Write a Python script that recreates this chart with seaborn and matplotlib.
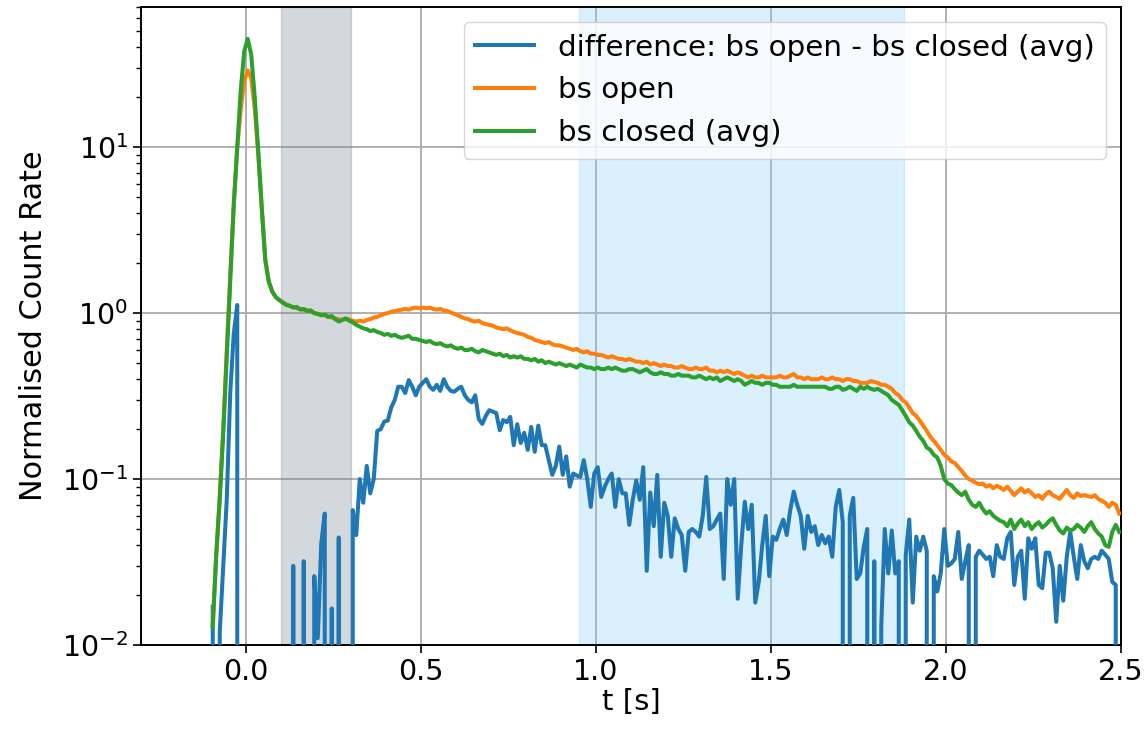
import numpy as np
import pandas as pd
import matplotlib
matplotlib.use("Agg")
import matplotlib.pyplot as plt
import seaborn as sns

# time bin centres [s]
t = np.linspace(-0.095, 2.495, 260)

bs_open = [
    0.013, 0.035, 0.08, 0.2, 0.6, 1.7, 4.5, 10, 17, 25,
    29, 26, 17, 9, 4.3, 2.1, 1.55, 1.35, 1.25, 1.2,
    1.16, 1.13, 1.1, 1.09, 1.07, 1.06, 1.05, 1.04, 1.02, 1.0,
    0.99, 0.98, 0.97, 0.95, 0.94, 0.93, 0.92, 0.91, 0.92, 0.92,
    0.90, 0.89, 0.90, 0.89, 0.91, 0.92, 0.94, 0.95, 0.97, 0.99,
    1.0, 1.02, 1.03, 1.04, 1.05, 1.06, 1.05, 1.07, 1.08, 1.07,
    1.08, 1.07, 1.08, 1.06, 1.05, 1.06, 1.04, 1.03, 1.01, 0.99,
    0.97, 0.95, 0.93, 0.92, 0.90, 0.89, 0.90, 0.87, 0.86, 0.85,
    0.84, 0.82, 0.81, 0.80, 0.81, 0.79, 0.77, 0.76, 0.75, 0.74,
    0.72, 0.71, 0.69, 0.68, 0.67, 0.66, 0.67, 0.65, 0.64, 0.64,
    0.63, 0.62, 0.61, 0.60, 0.61, 0.59, 0.58, 0.59, 0.57, 0.57,
    0.56, 0.56, 0.55, 0.54, 0.55, 0.54, 0.53, 0.53, 0.52, 0.53,
    0.52, 0.51, 0.51, 0.50, 0.51, 0.49, 0.50, 0.49, 0.48, 0.49,
    0.48, 0.48, 0.47, 0.47, 0.48, 0.47, 0.46, 0.46, 0.47, 0.46,
    0.46, 0.47, 0.45, 0.45, 0.44, 0.45, 0.44, 0.45, 0.44, 0.43,
    0.44, 0.43, 0.42, 0.41, 0.42, 0.41, 0.41, 0.42, 0.41, 0.41,
    0.41, 0.41, 0.42, 0.41, 0.41, 0.42, 0.43, 0.41, 0.41, 0.40,
    0.41, 0.40, 0.40, 0.40, 0.41, 0.40, 0.40, 0.41, 0.40, 0.40,
    0.39, 0.40, 0.40, 0.39, 0.39, 0.38, 0.38, 0.38, 0.39, 0.385,
    0.38, 0.37, 0.37, 0.36, 0.35, 0.33, 0.32, 0.30, 0.29, 0.27,
    0.25, 0.24, 0.225, 0.21, 0.195, 0.18, 0.17, 0.16, 0.15, 0.14,
    0.135, 0.128, 0.125, 0.118, 0.112, 0.105, 0.100, 0.098, 0.095, 0.093,
    0.094, 0.090, 0.092, 0.088, 0.091, 0.089, 0.086, 0.090, 0.085, 0.080,
    0.084, 0.088, 0.083, 0.086, 0.082, 0.078, 0.080, 0.076, 0.081, 0.084,
    0.080, 0.078, 0.076, 0.081, 0.086, 0.080, 0.077, 0.082, 0.079, 0.080,
    0.079, 0.078, 0.080, 0.076, 0.074, 0.072, 0.068, 0.072, 0.070, 0.062,
]

bs_closed = [
    0.013, 0.035, 0.075, 0.19, 0.55, 1.6, 4.5, 10, 22, 38,
    45, 36, 20, 9.5, 4.3, 2.1, 1.55, 1.35, 1.25, 1.2,
    1.16, 1.12, 1.11, 1.08, 1.09, 1.05, 1.06, 1.03, 1.04, 1.0,
    0.99, 0.97, 0.98, 0.95, 0.96, 0.92, 0.89, 0.91, 0.93, 0.90,
    0.88, 0.85, 0.83, 0.81, 0.80, 0.78, 0.79, 0.77, 0.76, 0.74,
    0.75, 0.73, 0.74, 0.72, 0.71, 0.72, 0.73, 0.70, 0.70, 0.69,
    0.68, 0.67, 0.68, 0.66, 0.65, 0.66, 0.64, 0.63, 0.64, 0.62,
    0.61, 0.62, 0.60, 0.60, 0.61, 0.59, 0.58, 0.60, 0.59, 0.58,
    0.57, 0.56, 0.57, 0.55, 0.56, 0.54, 0.55, 0.54, 0.55, 0.53,
    0.53, 0.52, 0.53, 0.51, 0.52, 0.50, 0.51, 0.50, 0.49, 0.50,
    0.49, 0.48, 0.49, 0.48, 0.47, 0.49, 0.48, 0.47, 0.47, 0.46,
    0.47, 0.46, 0.46, 0.47, 0.46, 0.47, 0.46, 0.45, 0.45, 0.46,
    0.46, 0.45, 0.44, 0.45, 0.46, 0.44, 0.43, 0.43, 0.44, 0.43,
    0.43, 0.42, 0.42, 0.43, 0.42, 0.42, 0.42, 0.41, 0.41, 0.42,
    0.41, 0.40, 0.41, 0.40, 0.41, 0.39, 0.40, 0.41, 0.40, 0.39,
    0.40, 0.39, 0.37, 0.38, 0.39, 0.38, 0.38, 0.37, 0.38, 0.38,
    0.37, 0.37, 0.36, 0.36, 0.36, 0.36, 0.37, 0.36, 0.36, 0.36,
    0.36, 0.36, 0.36, 0.36, 0.36, 0.36, 0.35, 0.35, 0.36, 0.36,
    0.345, 0.35, 0.36, 0.35, 0.34, 0.36, 0.35, 0.36, 0.35, 0.345,
    0.35, 0.34, 0.33, 0.32, 0.30, 0.29, 0.28, 0.26, 0.24, 0.22,
    0.21, 0.195, 0.18, 0.17, 0.155, 0.15, 0.14, 0.135, 0.12, 0.10,
    0.094, 0.092, 0.087, 0.083, 0.080, 0.084, 0.075, 0.070, 0.068, 0.072,
    0.066, 0.062, 0.064, 0.060, 0.058, 0.056, 0.055, 0.052, 0.057, 0.050,
    0.054, 0.057, 0.052, 0.055, 0.050, 0.053, 0.055, 0.051, 0.053, 0.056,
    0.058, 0.053, 0.049, 0.047, 0.051, 0.049, 0.050, 0.053, 0.051, 0.048,
    0.052, 0.055, 0.050, 0.047, 0.045, 0.040, 0.039, 0.048, 0.053, 0.048,
]

# difference: bs open - bs closed (avg); 0 = non-positive (below log axis)
difference = [
    0.017, 0, 0.012, 0.03, 0.075, 0.33, 0.75, 1.12, 0, 0,
    0, 0, 0, 0, 0, 0, 0, 0, 0, 0,
    0, 0, 0, 0.030, 0, 0, 0.032, 0, 0, 0.026,
    0.011, 0.041, 0.062, 0, 0.0166, 0, 0.0445, 0, 0, 0,
    0.065, 0.046, 0.10, 0.072, 0.12, 0.082, 0.10, 0.195, 0.20, 0.222,
    0.225, 0.27, 0.30, 0.36, 0.36, 0.33, 0.395, 0.36, 0.32, 0.36,
    0.38, 0.40, 0.36, 0.345, 0.37, 0.34, 0.40, 0.36, 0.34, 0.336,
    0.35, 0.36, 0.32, 0.30, 0.29, 0.32, 0.23, 0.215, 0.24, 0.26,
    0.255, 0.25, 0.197, 0.227, 0.22, 0.237, 0.16, 0.214, 0.165, 0.19,
    0.15, 0.206, 0.146, 0.21, 0.16, 0.16, 0.13, 0.106, 0.12, 0.157,
    0.106, 0.137, 0.090, 0.108, 0.105, 0.103, 0.13, 0.10, 0.068, 0.108,
    0.118, 0.078, 0.09, 0.10, 0.108, 0.068, 0.10, 0.082, 0.082, 0.053,
    0.075, 0.098, 0.075, 0.118, 0.028, 0.083, 0.052, 0.106, 0.034, 0.072,
    0.06, 0.034, 0.058, 0.05, 0.046, 0.028, 0.048, 0.05, 0.048, 0.045,
    0.06, 0.103, 0.05, 0.052, 0.057, 0.062, 0.025, 0.10, 0.07, 0.10,
    0.019, 0.04, 0.073, 0.05, 0.07, 0.018, 0.024, 0.04, 0.06, 0.026,
    0.045, 0.043, 0.05, 0.057, 0.046, 0.065, 0.084, 0.07, 0.06, 0.038,
    0.06, 0.048, 0.052, 0.04, 0.046, 0.041, 0.045, 0.034, 0.068, 0.086,
    0.055, 0, 0.06, 0.077, 0.025, 0.027, 0.039, 0.05, 0, 0.032,
    0, 0.013, 0.05, 0.027, 0.049, 0.027, 0.032, 0, 0.035, 0.057,
    0.018, 0.045, 0.037, 0.045, 0.037, 0, 0.026, 0.021, 0.027, 0.05,
    0.03, 0.031, 0.033, 0.048, 0.025, 0.032, 0.04, 0, 0.034, 0.037,
    0.035, 0.033, 0.034, 0.026, 0.04, 0.034, 0.033, 0.044, 0.048, 0.023,
    0.034, 0.037, 0.019, 0.044, 0.038, 0.044, 0.023, 0.022, 0.036, 0.036,
    0.029, 0.0138, 0.03, 0.0185, 0.034, 0.048, 0.034, 0.025, 0.04, 0.032,
    0.029, 0.033, 0.034, 0.033, 0.037, 0.035, 0.033, 0.024, 0.023, 0,
]

labels = ["difference: bs open - bs closed (avg)", "bs open", "bs closed (avg)"]
x_ticks = [0.0, 0.5, 1.0, 1.5, 2.0, 2.5]

W, H, DPI = 1147, 734, 100
fig = plt.figure(figsize=(W / DPI, H / DPI), dpi=DPI)
ax = fig.add_axes([141 / W, 1 - 645 / H, (1121 - 141) / W, (645 - 7) / H])

ax.axvspan(0.1, 0.3, color="slategray", alpha=0.3, zorder=2)
ax.axvspan(0.95, 1.88, color="lightskyblue", alpha=0.3, zorder=2)

for series, lab, col in zip([difference, bs_open, bs_closed], labels, ["C0", "C1", "C2"]):
    sns.lineplot(x=t, y=series, ax=ax, color=col, label=lab, linewidth=2.9,
                 sort=False, estimator=None, zorder=3)

ax.set_yscale("log")
ax.set_xlim(-0.3, 2.5)
ax.set_ylim(0.01, 70)
ax.set_xticks(x_ticks)
ax.grid(True, which="major", color="#b0b0b0", linewidth=1.4, zorder=1)
ax.set_axisbelow(True)
ax.tick_params(labelsize=20.5, length=6, width=1.2)
ax.tick_params(which="minor", length=3.5, width=1.0)
for s in ax.spines.values():
    s.set_linewidth(1.4)
ax.set_xlabel("t [s]", fontsize=21, labelpad=1)
ax.set_ylabel("Normalised Count Rate", fontsize=21.8, labelpad=10)
ax.legend(loc="upper right", fontsize=21.2, framealpha=0.8)

fig.savefig("out.png", dpi=DPI)
